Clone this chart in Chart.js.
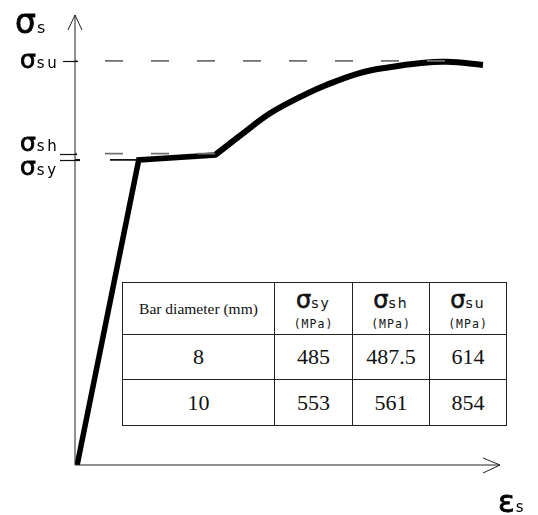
<!DOCTYPE html>
<html>
<head>
<meta charset="utf-8">
<script src="https://cdn.jsdelivr.net/npm/chart.js@4.4.1/dist/chart.umd.min.js"></script>
<style>
  html, body { margin: 0; padding: 0; background: #fff; }
  #wrap { position: relative; width: 538px; height: 515px; }
  #props { position: absolute; left: 122px; top: 282px; border-collapse: collapse; background: #fff; }
  #props td { border: 1px solid #222; text-align: center; padding: 0; color: #111;
              font-family: "Liberation Serif", serif; font-size: 22px; }
  #props td.name { font-size: 15.5px; }
  .sym { font-family: "DejaVu Sans", sans-serif; font-size: 24px; -webkit-text-stroke: 0.6px #111; }
  .sub { font-family: "DejaVu Sans", sans-serif; font-size: 14px; letter-spacing: 2px; }
  .unit { font-family: "DejaVu Sans Mono", monospace; font-size: 11.5px; letter-spacing: 1px; display: block; margin-top: 3px; }
</style>
</head>
<body>
<div id="wrap">
  <canvas id="curve" width="538" height="515"></canvas>
  <table id="props"></table>
</div>
<script>
// schematic stress-strain curve, normalised units (0..10 on both axes)
const elasticStrain = [0.05, 1.5, 3.3, 3.9];
const elasticStress = [0, 6.78, 6.89, 7.33];
const hardeningStrain = [3.3, 3.9, 4.6, 5.3, 5.9, 6.7, 7.4, 8.1, 8.75, 9.6];
const hardeningStress = [6.89, 7.33, 7.82, 8.18, 8.44, 8.71, 8.84, 8.93, 8.96, 8.89];

// characteristic stresses marked on the vertical axis
const levelNames = ['sy', 'sh', 'su'];
const levelStress = [6.78, 6.92, 8.98];
const levelStrain = [1.5, 3.3, 8.75]; // where each guide line meets the curve

// table values (MPa)
const barDiameters = ['8', '10'];
const sigmaSy = ['485', '553'];
const sigmaSh = ['487.5', '561'];
const sigmaSu = ['614', '854'];

function toPoints(xs, ys) {
  return xs.map((x, i) => ({ x: x, y: ys[i] }));
}

// guide line styles: yield line black, the others grey
const guideStyle = {
  sy: { color: '#111', dash: [27, 30], offset: 22 },
  sh: { color: '#707070', dash: [18, 28], offset: 16 },
  su: { color: '#707070', dash: [18, 28], offset: 16 }
};

const guideSets = levelNames.map((name, i) => ({
  data: [{ x: 0, y: levelStress[i] }, { x: levelStrain[i], y: levelStress[i] }],
  borderColor: guideStyle[name].color,
  borderWidth: 1.6,
  borderDash: guideStyle[name].dash,
  borderDashOffset: guideStyle[name].offset,
  pointRadius: 0,
  tension: 0
}));

// draw a symbol with its subscript on one baseline
function drawSym(ctx, sym, sub, x, y, bigSize, subSize) {
  ctx.save();
  ctx.fillStyle = '#000';
  ctx.strokeStyle = '#000';
  ctx.textBaseline = 'alphabetic';
  ctx.textAlign = 'left';
  ctx.font = bigSize + 'px "DejaVu Sans"';
  ctx.lineWidth = 0.8;
  ctx.fillText(sym, x, y);
  ctx.strokeText(sym, x, y);
  const w = ctx.measureText(sym).width;
  ctx.font = subSize + 'px "DejaVu Sans"';
  ctx.letterSpacing = '2.5px';
  ctx.fillText(sub, x + w + 1, y);
  ctx.restore();
}

// axes with arrows, level ticks and labels
const axesPlugin = {
  id: 'axesPlugin',
  afterDatasetsDraw(chart) {
    const ctx = chart.ctx;
    const xs = chart.scales.x, ys = chart.scales.y;
    const x0 = xs.getPixelForValue(0), x1 = xs.getPixelForValue(10);
    const y0 = ys.getPixelForValue(0), y1 = ys.getPixelForValue(10);
    ctx.save();
    ctx.strokeStyle = '#222';
    ctx.lineWidth = 1;
    ctx.beginPath();
    ctx.moveTo(x0, y0); ctx.lineTo(x0, y1);
    ctx.moveTo(x0 - 7, y1 + 15); ctx.lineTo(x0, y1); ctx.lineTo(x0 + 7, y1 + 15);
    ctx.moveTo(x0, y0); ctx.lineTo(x1, y0);
    ctx.moveTo(x1 - 17, y0 - 7); ctx.lineTo(x1, y0); ctx.lineTo(x1 - 17, y0 + 8);
    ctx.stroke();

    // short solid ticks left of the axis
    const tick = { sy: [-15, 5], sh: [-15, 2], su: [-12, 3] };
    ctx.strokeStyle = '#111';
    ctx.lineWidth = 1.2;
    levelNames.forEach((name, i) => {
      const y = Math.round(ys.getPixelForValue(levelStress[i])) + 0.5;
      ctx.beginPath();
      ctx.moveTo(x0 + tick[name][0], y);
      ctx.lineTo(x0 + tick[name][1], y);
      ctx.stroke();
    });
    ctx.restore();

    const shift = { sy: 15, sh: -3, su: 7 };
    levelNames.forEach((name, i) => {
      const y = ys.getPixelForValue(levelStress[i]);
      drawSym(ctx, '\u03C3', name, x0 - 55, y + shift[name], 25, 15);
    });
    drawSym(ctx, '\u03C3', 's', x0 - 60, y1 + 18, 33, 16);
    drawSym(ctx, '\u03B5', 's', x1 - 2, y0 + 47, 31, 15);
  }
};

new Chart(document.getElementById('curve'), {
  type: 'line',
  data: {
    datasets: [
      ...guideSets,
      {
        data: toPoints(elasticStrain, elasticStress),
        borderColor: '#000',
        borderWidth: 5.5,
        borderJoinStyle: 'miter',
        pointRadius: 0,
        tension: 0
      },
      {
        data: toPoints(hardeningStrain, hardeningStress),
        borderColor: '#000',
        borderWidth: 6,
        pointRadius: 0,
        tension: 0.4
      }
    ]
  },
  options: {
    responsive: false,
    animation: false,
    layout: { padding: { left: 75, right: 38, top: 15, bottom: 50 } },
    plugins: { legend: { display: false }, tooltip: { enabled: false } },
    scales: {
      x: { type: 'linear', min: 0, max: 10, display: false },
      y: { type: 'linear', min: 0, max: 10, display: false }
    }
  },
  plugins: [axesPlugin]
});

// property table
const table = document.getElementById('props');
const colWidths = [151, 77, 76, 76];
let html = '<tr style="height:52px"><td class="name" style="width:' + colWidths[0] + 'px">Bar diameter (mm)</td>';
['sy', 'sh', 'su'].forEach((s, i) => {
  html += '<td style="width:' + colWidths[i + 1] + 'px"><span class="sym">\u03C3</span><span class="sub">' + s +
          '</span><span class="unit">(MPa)</span></td>';
});
html += '</tr>';
const rowHeights = [45, 46];
barDiameters.forEach((d, i) => {
  html += '<tr style="height:' + rowHeights[i] + 'px"><td>' + d + '</td><td>' + sigmaSy[i] + '</td><td>' +
          sigmaSh[i] + '</td><td>' + sigmaSu[i] + '</td></tr>';
});
table.innerHTML = html;
</script>
</body>
</html>
